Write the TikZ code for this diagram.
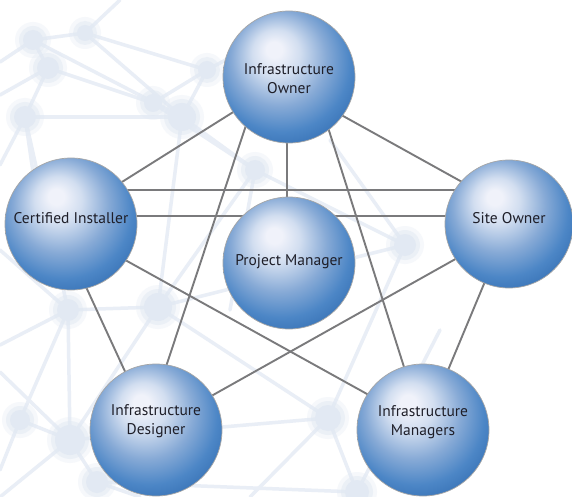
\documentclass[tikz,border=0pt]{standalone}
\usepackage{fontspec}
\setmainfont{PT Sans}
\usetikzlibrary{calc}
\definecolor{hlc}{RGB}{240,242,250}
\definecolor{c1}{RGB}{210,222,240}
\definecolor{c2}{RGB}{135,170,214}
\definecolor{c3}{RGB}{76,134,198}
\definecolor{c4}{RGB}{52,110,178}
\definecolor{c5}{RGB}{38,94,162}
\definecolor{linkc}{RGB}{122,122,124}
\definecolor{netc}{RGB}{233,238,246}
\definecolor{netd}{RGB}{226,233,243}
\definecolor{txtc}{RGB}{30,30,40}
\pgfdeclareradialshading{bluesphere}{\pgfqpoint{-6bp}{11bp}}{%
  color(0bp)=(hlc); color(3bp)=(hlc); color(9bp)=(c1); color(18bp)=(c2);
  color(26bp)=(c3); color(33bp)=(c4); color(40bp)=(c5); color(50bp)=(c5)}
\pgfdeclarelayer{net}
\pgfdeclarelayer{links}
\pgfsetlayers{net,links,main}
\tikzset{
  sphere/.style={circle, minimum size=132pt, inner sep=0pt, shading=bluesphere,
    draw=black!35, line width=0.7pt},
  lbl/.style={align=center, text=txtc, font=\fontsize{15.5}{19}\selectfont},
  link/.style={draw=linkc, line width=1.9pt},
  netline/.style={draw=netc, line width=3.5pt, line cap=round},
  netdot/.style={fill=netd, draw=none}
}
\begin{document}
\begin{tikzpicture}[x=1pt,y=-1pt]
\useasboundingbox (0,0) rectangle (572,497);
% spheres
\node[sphere, label={[lbl,yshift=-2pt]center:Infrastructure\\Owner}] (IO) at (289,77) {};
\node[sphere, label={[lbl,yshift=6pt]center:Certified Installer}] (CI) at (71,224) {};
\node[sphere, minimum size=128pt, label={[lbl,yshift=6pt]center:Site Owner}] (SO) at (509,224) {};
\node[sphere, label={[lbl,yshift=1pt]center:Project Manager}] (PM) at (289,263) {};
\node[sphere, label={[lbl,yshift=9pt]center:Infrastructure\\Designer}] (ID) at (156,430) {};
\node[sphere, label={[lbl,yshift=8pt]center:Infrastructure\\Managers}] (IM) at (423,430) {};
% links
\begin{pgfonlayer}{links}
\draw[link] (IO.center) -- ([yshift=10pt]CI.center);
\draw[link] ([yshift=-9pt]IO.center) -- ([yshift=16pt]SO.center);
\draw[link] ([xshift=-2pt]IO.center) -- ([xshift=-2pt]PM.center);
\draw[link] ([xshift=-27pt]IO.center) -- ([xshift=-11pt]ID.center);
\draw[link] ([xshift=23pt]IO.center) -- ([xshift=1pt]IM.center);
\draw[link] ([yshift=34pt]CI.center) -- ([yshift=34pt]SO.center);
\draw[link] ([yshift=8pt]CI.center) -- ([yshift=8pt]SO.center);
\draw[link] ([xshift=-14pt]CI.center) -- ([xshift=-4pt]ID.center);
\draw[link] ([yshift=-6pt]CI.center) -- ([yshift=5pt]IM.center);
\draw[link] ([yshift=-5pt]SO.center) -- ([yshift=3pt]ID.center);
\draw[link] (SO.center) -- (IM.center);
\end{pgfonlayer}
% faint background network
\begin{pgfonlayer}{net}
\fill[white] (0,0) rectangle (572,497);
\coordinate (d1) at (33,40);
\coordinate (d2) at (48,68);
\coordinate (d3) at (85,33);
\coordinate (d4) at (25,117);
\coordinate (d5) at (153,103);
\coordinate (d6) at (182,117);
\coordinate (d7) at (207,70);
\coordinate (d8) at (68,310);
\coordinate (d9) at (158,307);
\coordinate (d10) at (20,420);
\coordinate (d11) at (70,440);
\coordinate (d12) at (97,482);
\coordinate (d13) at (328,418);
\coordinate (d14) at (357,492);
\coordinate (d15) at (405,245);
\coordinate (d16) at (255,170);
\foreach \a/\b in {d1/d6,d1/d2,d1/d3,d2/d5,d2/d4,d4/d6,d3/d6,d3/d7,d5/d7,d6/d7,
  d6/d16,d5/d16,d4/d8,d8/d9,d8/d11,d8/d10,d9/d11,d10/d11,d11/d12,d9/d13,
  d13/d14,d12/d14,d13/d15,d9/d15,d16/d15,d6/d9,d11/d13,d16/d9}
  \draw[netline] (\a) -- (\b);
\draw[netline] (d1) -- (0,62);
\draw[netline] (d2) -- (0,95);
\draw[netline] (d4) -- (0,165);
\draw[netline] (d8) -- (0,250);
\draw[netline] (d8) -- (0,345);
\draw[netline] (d10) -- (0,470);
\draw[netline] (d11) -- (0,497);
\draw[netline] (d11) -- (0,372);
\draw[netline] (d12) -- (140,497);
\draw[netline] (d3) -- (120,0);
\draw[netline] (d7) -- (300,20);
\draw[netline] (d13) -- (250,497);
\draw[netline] (d14) -- (440,330);
\draw[netline] (d15) -- (330,140);
\draw[netline] (d4) -- (40,220);
\draw[netline] (d16) -- (230,310);
\foreach \d/\r in {d1/10,d2/11,d3/8,d4/11,d5/9,d6/14,d7/9,d8/11,d9/14,d10/10,
  d11/15,d12/11,d13/13,d14/12,d15/11,d16/10}{
  \fill[netd,opacity=0.3] (\d) circle (\r+8);
  \fill[netd,opacity=0.5] (\d) circle (\r+4);
  \fill[netdot] (\d) circle (\r);
}
\end{pgfonlayer}
\end{tikzpicture}
\end{document}
